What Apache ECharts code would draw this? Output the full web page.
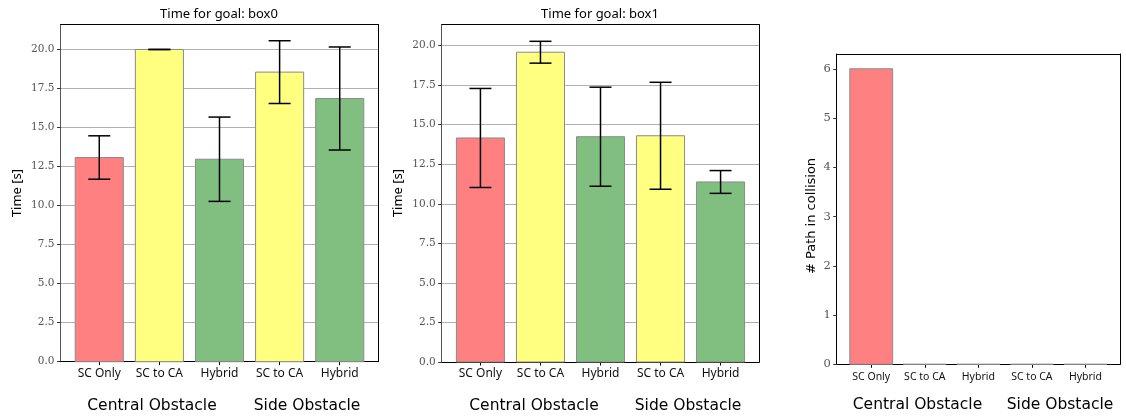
<!DOCTYPE html>
<html>
<head>
<meta charset="utf-8">
<script src="https://cdn.jsdelivr.net/npm/echarts@6/dist/echarts.min.js"></script>
<style>html,body{margin:0;padding:0;background:#fff}#c{width:1126px;height:419px}</style>
</head>
<body>
<div id="c"></div>
<script>
const categories = ['SC Only', 'SC to CA', 'Hybrid', 'SC to CA', 'Hybrid'];
const groupLabels = ['Central Obstacle', 'Side Obstacle'];
const titles = ['Time for goal: box0', 'Time for goal: box1'];
const box0Mean = [13.08, 20.0, 12.97, 18.55, 16.86];
const box0Err = [1.39, 0.0, 2.70, 2.01, 3.30];
const box1Mean = [14.16, 19.58, 14.24, 14.30, 11.38];
const box1Err = [3.13, 0.69, 3.13, 3.38, 0.72];
const collisions = [6, 0, 0, 0, 0];
const catPositions = [0, 1, 2, 3, 4];
const timeTicks = [0, 2.5, 5, 7.5, 10, 12.5, 15, 17.5, 20];
const countTicks = [0, 1, 2, 3, 4, 5, 6];

const barColors = ['#ff8080', '#ffff80', '#80bf80', '#ffff80', '#80bf80'];
const tickFont = '"Noto Sans", sans-serif';
const serifFont = '"DejaVu Serif", serif';

const grids = [
  {left: 60.5, top: 24.5, width: 318, height: 337.2},
  {left: 441.7, top: 24.7, width: 317.6, height: 337.3},
  {left: 836.7, top: 54, width: 283.3, height: 310.3}
];
const yMax = [21.6, 21.32, 6.3];
const xMin = -0.645, xMax = 4.645;

const xAxes = [], yAxes = [];
grids.forEach((g, gi) => {
  xAxes.push({
    type: 'value', gridIndex: gi, min: xMin, max: xMax, position: 'bottom',
    axisLine: {show: true, onZero: false, lineStyle: {color: '#000', width: 1}},
    axisTick: {show: true, length: 3.5, lineStyle: {color: '#000'}, customValues: catPositions},
    axisLabel: {
      customValues: catPositions, margin: gi === 2 ? 7 : 6,
      formatter: v => categories[Math.round(v)] || '',
      color: '#111', fontFamily: tickFont, fontSize: gi === 2 ? 10.5 : 12
    },
    splitLine: {show: false}
  });
  xAxes.push({
    type: 'value', gridIndex: gi, min: xMin, max: xMax, position: 'top',
    axisLine: {show: true, onZero: false, lineStyle: {color: '#000', width: 1}},
    axisTick: {show: false}, axisLabel: {show: false}, splitLine: {show: false}
  });
  const isTime = gi < 2;
  yAxes.push({
    type: 'value', gridIndex: gi, min: 0, max: yMax[gi], interval: isTime ? 2.5 : 1,
    position: 'left',
    axisLine: {show: true, onZero: false, lineStyle: {color: isTime ? '#555' : '#000', width: 1}},
    axisTick: {show: true, length: 3.5, lineStyle: {color: '#333'}, customValues: isTime ? timeTicks : countTicks},
    axisLabel: {
      customValues: isTime ? timeTicks : countTicks, margin: 6,
      formatter: v => isTime ? v.toFixed(1) : String(v),
      color: '#555', fontFamily: serifFont, fontSize: isTime ? 10.5 : 11.5
    },
    splitLine: {show: isTime, lineStyle: {color: '#b0b0b0', width: 1}}
  });
  yAxes.push({
    type: 'value', gridIndex: gi, min: 0, max: yMax[gi], position: 'right',
    axisLine: {show: true, onZero: false, lineStyle: {color: '#000', width: 1}},
    axisTick: {show: false}, axisLabel: {show: false}, splitLine: {show: false}
  });
});

function barSeries(gi, values, colors) {
  return {
    type: 'custom', xAxisIndex: gi * 2, yAxisIndex: gi * 2, z: 2,
    data: values.map((v, i) => [catPositions[i], v, i]),
    encode: {x: 0, y: 1},
    renderItem: (params, api) => {
      const x = api.value(0), y = api.value(1), idx = api.value(2);
      const p0 = api.coord([x - 0.4, y]);
      const p1 = api.coord([x + 0.4, 0]);
      return {
        type: 'rect',
        shape: {x: p0[0], y: p0[1], width: p1[0] - p0[0], height: p1[1] - p0[1]},
        style: {fill: colors[idx], stroke: '#8a8a8a', lineWidth: 1}
      };
    }
  };
}
function errSeries(gi, means, errs) {
  return {
    type: 'custom', xAxisIndex: gi * 2, yAxisIndex: gi * 2, z: 3,
    data: means.map((v, i) => [catPositions[i], v, errs[i]]),
    encode: {x: 0, y: 1},
    renderItem: (params, api) => {
      const x = api.value(0), y = api.value(1), e = api.value(2);
      const hi = api.coord([x, y + e]);
      const lo = api.coord([x, y - e]);
      const cap = 11;
      const st = {stroke: '#000', lineWidth: 1.5};
      return {
        type: 'group', children: [
          {type: 'line', shape: {x1: hi[0], y1: hi[1], x2: lo[0], y2: lo[1]}, style: st},
          {type: 'line', shape: {x1: hi[0] - cap, y1: hi[1], x2: hi[0] + cap, y2: hi[1]}, style: st},
          {type: 'line', shape: {x1: lo[0] - cap, y1: lo[1], x2: lo[0] + cap, y2: lo[1]}, style: st}
        ]
      };
    }
  };
}

const collisionColors = ['#ff8080', '#ff8080', '#ff8080', '#ff8080', '#ff8080'];
const series = [
  barSeries(0, box0Mean, barColors), errSeries(0, box0Mean, box0Err),
  barSeries(1, box1Mean, barColors), errSeries(1, box1Mean, box1Err),
  barSeries(2, collisions, collisionColors)
];

const textFont = (size, fam) => size + 'px ' + fam;
const grpFont = textFont(15.5, '"DejaVu Sans", sans-serif');
const graphic = [
  {type: 'text', x: 219, y: 14, style: {text: titles[0], textAlign: 'center', textVerticalAlign: 'middle', font: textFont(13, tickFont), fill: '#000'}},
  {type: 'text', x: 600, y: 14, style: {text: titles[1], textAlign: 'center', textVerticalAlign: 'middle', font: textFont(13, tickFont), fill: '#000'}},
  {type: 'text', x: 17, y: 193, rotation: Math.PI / 2, style: {text: 'Time [s]', textAlign: 'center', textVerticalAlign: 'middle', font: textFont(13, tickFont), fill: '#000'}},
  {type: 'text', x: 398, y: 193, rotation: Math.PI / 2, style: {text: 'Time [s]', textAlign: 'center', textVerticalAlign: 'middle', font: textFont(13, tickFont), fill: '#000'}},
  {type: 'text', x: 812, y: 216, rotation: Math.PI / 2, style: {text: '# Path in collision', textAlign: 'center', textVerticalAlign: 'middle', font: textFont(13, '"DejaVu Sans", sans-serif'), fill: '#000'}},
  {type: 'text', x: 152, y: 406, style: {text: groupLabels[0], textAlign: 'center', textVerticalAlign: 'middle', font: grpFont, fill: '#000'}},
  {type: 'text', x: 307, y: 406, style: {text: groupLabels[1], textAlign: 'center', textVerticalAlign: 'middle', font: grpFont, fill: '#000'}},
  {type: 'text', x: 534, y: 406, style: {text: groupLabels[0], textAlign: 'center', textVerticalAlign: 'middle', font: grpFont, fill: '#000'}},
  {type: 'text', x: 688, y: 406, style: {text: groupLabels[1], textAlign: 'center', textVerticalAlign: 'middle', font: grpFont, fill: '#000'}},
  {type: 'text', x: 917.5, y: 405, style: {text: groupLabels[0], textAlign: 'center', textVerticalAlign: 'middle', font: grpFont, fill: '#000'}},
  {type: 'text', x: 1060, y: 405, style: {text: groupLabels[1], textAlign: 'center', textVerticalAlign: 'middle', font: grpFont, fill: '#000'}}
];

const chart = echarts.init(document.getElementById('c'), null, {renderer: 'canvas'});
chart.setOption({
  animation: false,
  backgroundColor: '#fff',
  grid: grids.map(g => Object.assign({containLabel: false}, g)),
  xAxis: xAxes,
  yAxis: yAxes,
  series: series,
  graphic: graphic
});
</script>
</body>
</html>
